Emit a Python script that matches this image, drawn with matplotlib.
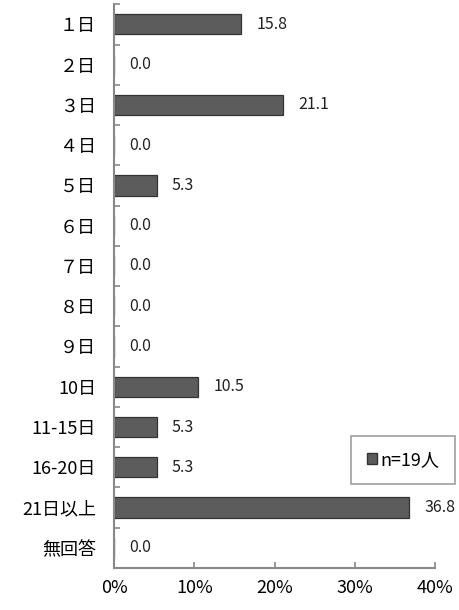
import numpy as np
import matplotlib
matplotlib.use("Agg")
import matplotlib.pyplot as plt
from matplotlib.patches import Patch

plt.rcParams['font.family'] = ['Noto Sans CJK JP', 'DejaVu Sans']

# categories and shares (%)
labels = ['１日', '２日', '３日', '４日', '５日', '６日', '７日', '８日', '９日',
          '10日', '11-15日', '16-20日', '21日以上', '無回答']
values = [15.8, 0.0, 21.1, 0.0, 5.3, 0.0, 0.0, 0.0, 0.0, 10.5, 5.3, 5.3, 36.8, 0.0]
xticks = [0, 10, 20, 30, 40]
legend_label = 'n=19人'

fig = plt.figure(figsize=(4.6, 6.1), dpi=100)
ax = fig.add_axes([0.248, 0.069, 0.698, 0.924])

y = np.arange(len(labels))
ax.barh(y, values, height=0.5, color='#5c5c5c', edgecolor='#333333', linewidth=0.9)

for yi, v in zip(y, values):
    ax.text(v + 1.9, yi, f'{v:.1f}', va='center', ha='left', fontsize=11.5,
            color='#222222', clip_on=False)

ax.set_ylim(len(labels) - 0.5, -0.5)
ax.set_xlim(0, 40)
ax.set_yticks(y)
ax.set_yticklabels(labels, fontsize=13)
ax.set_yticks(np.arange(len(labels) + 1) - 0.5, minor=True)
ax.tick_params(axis='y', which='major', length=0, pad=13)
ax.tick_params(axis='y', which='minor', length=4, direction='in', color='#888888', width=1.2)
ax.set_xticks(xticks)
ax.set_xticklabels([f'{t}%' for t in xticks], fontsize=13)
ax.tick_params(axis='x', direction='in', length=4, color='#888888', width=1.2, pad=8)

for side in ['top', 'right']:
    ax.spines[side].set_visible(False)
for side in ['left', 'bottom']:
    ax.spines[side].set_color('#888888')
    ax.spines[side].set_linewidth(1.5)

handle = Patch(facecolor='#5c5c5c', edgecolor='#333333')
leg = fig.legend([handle], [legend_label], loc='center',
                 bbox_to_anchor=(403 / 460, 1 - 460 / 610), fontsize=13,
                 frameon=True, fancybox=False, handlelength=0.55, handleheight=0.55,
                 handletextpad=0.2, borderpad=0.85)
leg.get_frame().set_edgecolor('#888888')
leg.get_frame().set_linewidth(1.2)

fig.savefig('out.png', dpi=100)
